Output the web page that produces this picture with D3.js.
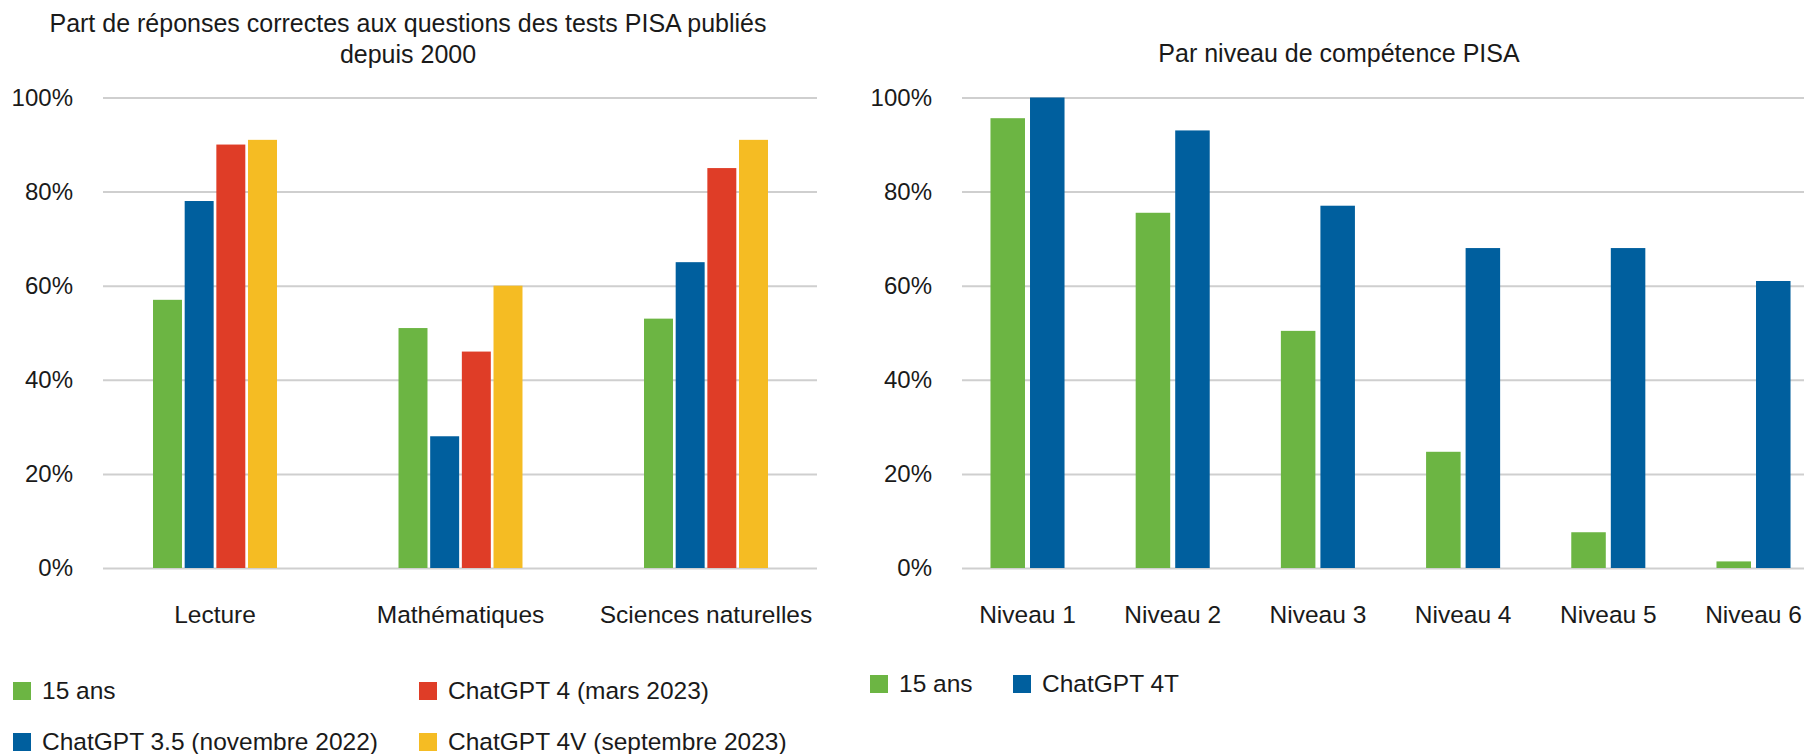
<!DOCTYPE html>
<html>
<head>
<meta charset="utf-8">
<script src="https://cdn.jsdelivr.net/npm/d3@7"></script>
<style>
  body { margin: 0; background: #fff; }
  svg { display: block; font-family: "Liberation Sans", Arial, sans-serif; }
  .tick text { fill: #1a1a1a; }
</style>
</head>
<body>
<script>
// donnees
var subjects = ["Lecture", "Mathématiques", "Sciences naturelles"];
var seriesLeft = ["15 ans", "ChatGPT 3.5 (novembre 2022)", "ChatGPT 4 (mars 2023)", "ChatGPT 4V (septembre 2023)"];
var eleves15 = [57, 51, 53];
var gpt35 = [78, 28, 65];
var gpt4 = [90, 46, 85];
var gpt4v = [91, 60, 91];

var levels = ["Niveau 1", "Niveau 2", "Niveau 3", "Niveau 4", "Niveau 5", "Niveau 6"];
var seriesRight = ["15 ans", "ChatGPT 4T"];
var levelEleves = [95.6, 75.5, 50.4, 24.7, 7.6, 1.4];
var levelGpt4t = [100, 93, 77, 68, 68, 61];

var yTicks = [0, 20, 40, 60, 80, 100];

var colors = ["#6cb543", "#005f9e", "#df3d27", "#f5bc23"];

var width = 1804,
  height = 754,
  yTop = 97.5,
  yBottom = 568;

var svg = d3.select("body").append("svg")
  .attr("width", width)
  .attr("height", height);

var y = d3.scaleLinear().domain([0, 100]).range([yBottom, yTop]);

function drawPanel(opts) {
  var g = svg.append("g");

  // grille + etiquettes de l'axe y
  var yAxis = d3.axisLeft(y)
    .tickValues(yTicks)
    .tickSize(-(opts.gridEnd - opts.gridStart))
    .tickPadding(30)
    .tickFormat(function (d) { return d + "%"; });

  var ya = g.append("g")
    .attr("transform", "translate(" + opts.gridStart + ",0)")
    .call(yAxis);
  ya.select(".domain").remove();
  ya.selectAll(".tick line").attr("stroke", "#cfcfcf").attr("stroke-width", 2);
  ya.selectAll(".tick text").attr("font-size", 24).attr("font-family", null);

  var x0 = d3.scaleBand()
    .domain(opts.cats)
    .range(opts.xRange)
    .paddingInner(opts.groupPad)
    .paddingOuter(opts.groupPad / 2);

  var x1 = d3.scaleBand()
    .domain(d3.range(opts.series.length))
    .range([0, x0.bandwidth()])
    .paddingInner(opts.barPad);

  var rows = opts.cats.map(function (c, i) {
    return { cat: c, vals: opts.values.map(function (v) { return v[i]; }) };
  });

  var groups = g.selectAll(".grp")
    .data(rows)
    .enter().append("g")
    .attr("class", "grp")
    .attr("transform", function (d) { return "translate(" + x0(d.cat) + ",0)"; });

  groups.selectAll("rect")
    .data(function (d) { return d.vals; })
    .enter().append("rect")
    .attr("x", function (d, i) { return x1(i); })
    .attr("width", x1.bandwidth())
    .attr("y", function (d) { return y(d); })
    .attr("height", function (d) { return yBottom - y(d); })
    .attr("fill", function (d, i) { return colors[opts.colorIdx[i]]; });

  var xa = g.append("g")
    .attr("transform", "translate(0," + yBottom + ")")
    .call(d3.axisBottom(x0).tickSize(0).tickPadding(38));
  xa.select(".domain").remove();
  xa.selectAll(".tick text").attr("font-size", 24.5).attr("font-family", null);

  // titre
  g.selectAll(".title")
    .data(opts.title)
    .enter().append("text")
    .attr("x", opts.titleX)
    .attr("y", function (d, i) { return opts.titleY + i * 31; })
    .attr("text-anchor", "middle")
    .attr("font-size", 25)
    .attr("fill", "#1a1a1a")
    .text(function (d) { return d; });

  // legende
  var leg = g.selectAll(".leg")
    .data(opts.series)
    .enter().append("g")
    .attr("class", "leg")
    .attr("transform", function (d, i) { return "translate(" + opts.legPos[i][0] + "," + opts.legPos[i][1] + ")"; });
  leg.append("rect")
    .attr("x", 0)
    .attr("y", -17)
    .attr("width", 18)
    .attr("height", 18)
    .attr("fill", function (d, i) { return colors[opts.colorIdx[i]]; });
  leg.append("text")
    .attr("x", 29)
    .attr("y", 0)
    .attr("font-size", 24.5)
    .attr("fill", "#1a1a1a")
    .text(function (d) { return d; });
}

drawPanel({
  cats: subjects,
  series: seriesLeft,
  values: [eleves15, gpt35, gpt4, gpt4v],
  colorIdx: [0, 1, 2, 3],
  gridStart: 103,
  gridEnd: 817,
  xRange: [92.25, 828.75],
  groupPad: 0.495,
  barPad: 0.085,
  title: ["Part de réponses correctes aux questions des tests PISA publiés", "depuis 2000"],
  titleX: 408,
  titleY: 32,
  legPos: [[13, 699], [13, 750], [419, 699], [419, 750]]
});

drawPanel({
  cats: levels,
  series: seriesRight,
  values: [levelEleves, levelGpt4t],
  colorIdx: [0, 1],
  gridStart: 962,
  gridEnd: 1804,
  xRange: [954.9, 1826.1],
  groupPad: 0.49,
  barPad: 0.127,
  title: ["Par niveau de compétence PISA"],
  titleX: 1339,
  titleY: 62,
  legPos: [[870, 692], [1013, 692]]
});
</script>
</body>
</html>
